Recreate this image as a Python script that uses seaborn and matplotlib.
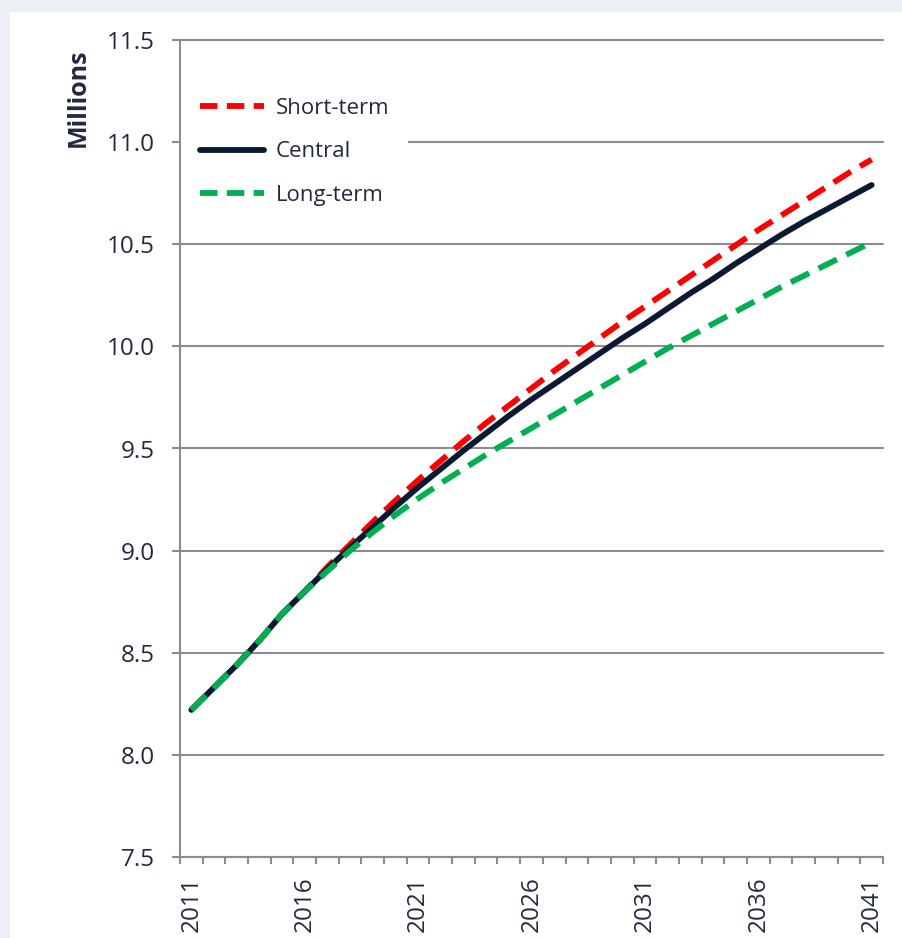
import matplotlib
matplotlib.use('Agg')
import matplotlib.pyplot as plt
import seaborn as sns
import pandas as pd
import numpy as np
from matplotlib.patches import Rectangle
from matplotlib.lines import Line2D

# ---------------- data ----------------
years = list(range(2011, 2042))
short_term = [8.22, 8.33, 8.44, 8.56, 8.69, 8.80, 8.92, 9.03, 9.14, 9.245, 9.345,
              9.44, 9.535, 9.625, 9.71, 9.795, 9.88, 9.96, 10.04, 10.12, 10.195,
              10.27, 10.345, 10.42, 10.495, 10.57, 10.64, 10.71, 10.78, 10.85, 10.915]
central = [8.22, 8.33, 8.44, 8.56, 8.69, 8.80, 8.91, 9.015, 9.115, 9.215, 9.31,
           9.40, 9.49, 9.575, 9.66, 9.74, 9.815, 9.89, 9.965, 10.04, 10.11,
           10.185, 10.26, 10.33, 10.405, 10.475, 10.545, 10.61, 10.67, 10.73, 10.79]
long_term = [8.22, 8.33, 8.44, 8.56, 8.69, 8.80, 8.90, 9.00, 9.09, 9.175, 9.255,
             9.33, 9.40, 9.47, 9.535, 9.60, 9.665, 9.73, 9.795, 9.86, 9.925,
             9.99, 10.05, 10.11, 10.17, 10.23, 10.29, 10.345, 10.40, 10.455, 10.51]
scenarios = ['Short-term', 'Central', 'Long-term']
colors = {'Short-term': '#ff0000', 'Central': '#0b1a33', 'Long-term': '#00b050'}
label_years = [2011, 2016, 2021, 2026, 2031, 2036, 2041]
y_ticks = [7.5, 8.0, 8.5, 9.0, 9.5, 10.0, 10.5, 11.0, 11.5]
y_label = 'Millions'

df = pd.DataFrame({
    'pos': list(range(len(years))) * 3,
    'year': years * 3,
    'value': short_term + central + long_term,
    'scenario': [s for s in scenarios for _ in years],
})

# ---------------- style ----------------
sns.set_style('white')
plt.rcParams['font.family'] = ['Open Sans', 'DejaVu Sans']
text_color = '#232a40'
grid_color = '#8c8c8c'
LW = 4.2
DASH = (3.5, 1.8)
LEG_DASH = (3.0, 1.6)

fig = plt.figure(figsize=(9.03, 9.38), dpi=100)
fig.patch.set_facecolor('#eceff4')
fig.add_artist(Rectangle((10 / 903, 0), 893 / 903, 926 / 938,
                         transform=fig.transFigure, facecolor='white',
                         edgecolor='none', zorder=0))
ax = fig.add_axes([180 / 903, 81 / 938, 703 / 903, 817 / 938])
ax.set_facecolor('none')

sns.lineplot(data=df, x='pos', y='value', hue='scenario', style='scenario',
             hue_order=scenarios, style_order=scenarios, palette=colors,
             dashes={'Short-term': DASH, 'Central': '', 'Long-term': DASH},
             linewidth=LW, errorbar=None, sort=False, legend=False, ax=ax)
for ln in ax.lines:
    ln.set_solid_capstyle('round')
    ln.set_solid_joinstyle('round')
    ln.set_dash_capstyle('butt')
    ln.set_zorder(3)

# axes
ax.set_xlim(-0.5, len(years) - 0.5)
ax.set_ylim(7.5, 11.5)
ax.set_xticks([years.index(y) for y in label_years])
ax.set_xticklabels([str(y) for y in label_years], rotation=90)
ax.set_xticks(np.arange(-0.5, len(years), 1.0), minor=True)
ax.tick_params(axis='x', which='major', length=0, pad=14, labelsize=17.5,
               labelcolor=text_color)
ax.tick_params(axis='x', which='minor', length=5, width=1.5, color=grid_color,
               direction='out', bottom=True)
ax.set_yticks(y_ticks)
ax.set_yticklabels([f'{v:.1f}' for v in y_ticks])
ax.tick_params(axis='y', which='major', length=6, width=1.5, color=grid_color,
               pad=12, labelsize=17.5, labelcolor=text_color, left=True)
ax.set_xlabel('')
ax.set_ylabel('')
ax.grid(axis='y', color=grid_color, linewidth=1.5)
ax.grid(axis='x', visible=False)
for gl in ax.get_ygridlines():
    gl.set_clip_on(False)
for side in ['top', 'right']:
    ax.spines[side].set_visible(False)
for side in ['left', 'bottom']:
    ax.spines[side].set_color(grid_color)
    ax.spines[side].set_linewidth(1.5)

# legend
handles = [Line2D([0], [0], color=colors['Short-term'], lw=LW, dashes=LEG_DASH,
                  dash_capstyle='butt'),
           Line2D([0], [0], color=colors['Central'], lw=LW, solid_capstyle='round'),
           Line2D([0], [0], color=colors['Long-term'], lw=LW, dashes=LEG_DASH,
                  dash_capstyle='butt')]
leg = ax.legend(handles, scenarios, loc='upper left', bbox_to_anchor=(0.0015, 0.952),
                frameon=True, facecolor='white', edgecolor='none', framealpha=1,
                fontsize=16, handlelength=2.9, handletextpad=0.5,
                labelspacing=1.0, borderpad=0.85, borderaxespad=0, fancybox=False)
for t in leg.get_texts():
    t.set_color(text_color)
leg.set_zorder(5)

fig.text(78 / 903, 1 - 98 / 938, y_label, rotation=90, fontsize=18,
         fontweight='bold', color=text_color, ha='center', va='center')

fig.savefig('out.png', dpi=100)
